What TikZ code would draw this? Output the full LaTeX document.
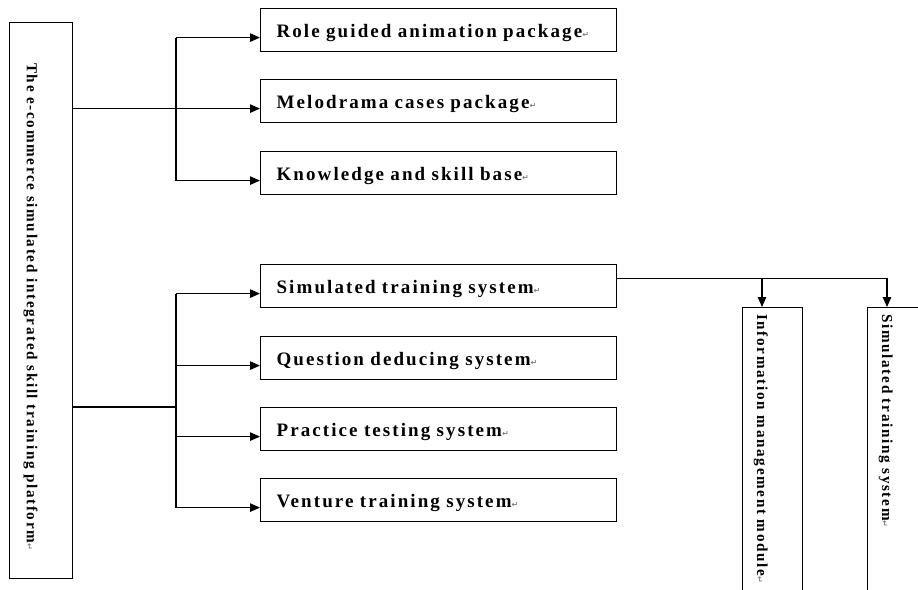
\documentclass[tikz,border=0pt]{standalone}
\usepackage{fontspec}
\setmainfont{Liberation Serif}
\newfontfamily\hfont[LetterSpace=11]{Liberation Serif}
\newfontfamily\symf{DejaVu Sans}
\usetikzlibrary{arrows.meta}
\newcommand{\pmark}{{\symf\fontsize{8}{8}\selectfont\color{gray}↵}}
\begin{document}
\begin{tikzpicture}[x=1pt,y=-1pt,
  box/.style={draw, line width=1.2pt, minimum width=356pt, minimum height=43pt, anchor=north west,
    inner xsep=16pt, text width=324pt, text height=18pt, text depth=4pt, align=left,
    font=\hfont\bfseries\fontsize{19}{22}\selectfont},
  tall/.style={draw, line width=1.2pt, anchor=north west, inner sep=0pt},
  vtext/.style={rotate=-90, anchor=base west, inner sep=0pt, font=\hfont\bfseries\fontsize{15.2}{17}\selectfont},
  arr/.style={line width=1.1pt, -{Triangle[length=10pt,width=8.5pt]}},
  ln/.style={line width=1.1pt}]
\useasboundingbox (0,0) rectangle (918,589);
\clip (0,0) rectangle (918,589);
\fill[white] (0,0) rectangle (918,589);

% left platform box
\node[tall, minimum width=63pt, minimum height=556pt] (plat) at (9,22) {};
\node[vtext] (platT) at (27,63) {The e-commerce simulated integrated skill training platform\pmark};

% upper boxes
\node[box] (role) at (260,8) {Role guided animation package\pmark};
\node[box] (melo) at (260,79) {Melodrama cases package\pmark};
\node[box] (know) at (260,151) {Knowledge and skill base\pmark};

% lower boxes
\node[box] (sim) at (260,264) {Simulated training system\pmark};
\node[box] (ques) at (260,336) {Question deducing system\pmark};
\node[box] (prac) at (260,407) {Practice testing system\pmark};
\node[box] (vent) at (260,478) {Venture training system\pmark};

% right vertical boxes
\node[tall, minimum width=60pt, minimum height=330pt] (info) at (742,307) {};
\node[vtext] (infoT) at (757,314) {Information management module\pmark};
\node[tall, minimum width=90pt, minimum height=330pt] (simB) at (867,307) {};
\node[vtext] (simBT) at (882,314) {Simulated training system\pmark};

% connector points
\coordinate (bx) at (176,0);
\coordinate (rA) at ([yshift=-7.5pt]role.west);
\coordinate (mA) at ([yshift=-7.5pt]melo.west);
\coordinate (kA) at ([yshift=-7.5pt]know.west);
\coordinate (sA) at ([yshift=-7.5pt]sim.west);
\coordinate (qA) at ([yshift=-7.5pt]ques.west);
\coordinate (pA) at ([yshift=-7.5pt]prac.west);
\coordinate (vA) at ([yshift=-7.5pt]vent.west);
\coordinate (tr) at (176,407);
\coordinate (sR) at ([yshift=7.5pt]sim.east);
\coordinate (c1) at (762,0);
\coordinate (c2) at (887,0);

% upper group
\draw[arr] (plat.east |- mA) -- (mA);
\draw[ln] (rA -| bx) -- (kA -| bx);
\draw[arr] (rA -| bx) -- (rA);
\draw[arr] (kA -| bx) -- (kA);

% lower group
\draw[ln] (plat.east |- tr) -- (tr);
\draw[ln] (sA -| bx) -- (vA -| bx);
\draw[arr] (sA -| bx) -- (sA);
\draw[arr] (qA -| bx) -- (qA);
\draw[arr] (pA -| bx) -- (pA);
\draw[arr] (vA -| bx) -- (vA);

% right group
\draw[arr] (sR) -- (sR -| c2) -- (c2 |- simB.north);
\draw[arr] (sR -| c1) -- (c1 |- info.north);
\end{tikzpicture}
\end{document}
